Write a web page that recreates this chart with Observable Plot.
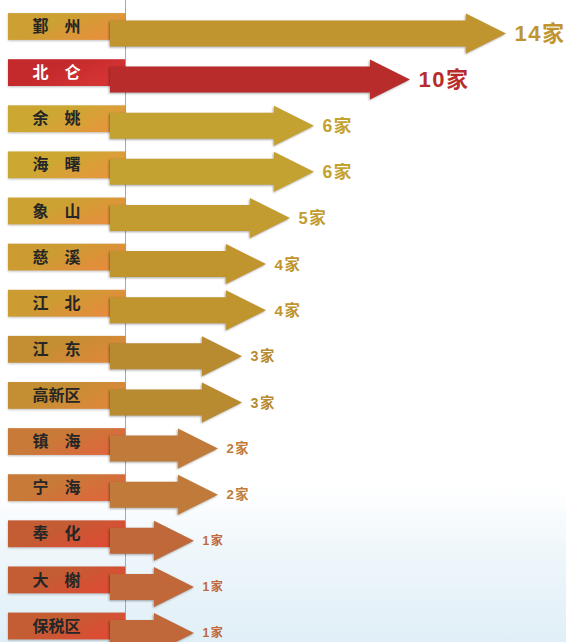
<!DOCTYPE html>
<html><head><meta charset="utf-8">
<script src="https://cdn.jsdelivr.net/npm/d3@7"></script>
<script src="https://cdn.jsdelivr.net/npm/@observablehq/plot@0.6"></script>
<style>
html,body{margin:0;padding:0;background:#fff;}
#chart svg{display:block;}
</style></head><body><div id="chart"></div>
<script>
// ---- data ----
const districts = ["鄞州","北仑","余姚","海曙","象山","慈溪","江北","江东","高新区","镇海","宁海","奉化","大榭","保税区"];
const counts = [14,10,6,6,5,4,4,3,3,2,2,1,1,1];
const unit = "家";

// ---- styles ----
const arrowColors = ["#c0952f","#b82c2c","#c4a232","#c4a232","#c29c30","#c0952e","#c0952e","#b98b30","#b98b30","#c07a3a","#c07a3a","#c0683a","#c0683a","#c0683a"];
const boxLeft  = ["#cca032","#c42a2c","#cca832","#cca832","#cca232","#cc9c32","#cc9c32","#c48e32","#c48e32","#c87a38","#c87a38","#c45c34","#c45c34","#c45c34"];
const boxRight = ["#e6903c","#d63434","#e4983c","#e4983c","#e4903c","#e48c3c","#e48c3c","#dc883a","#dc883a","#dc683c","#dc683c","#dc4c34","#dc4c34","#dc4c34"];

// ---- layout (pixels -> data units) ----
const W = 566, H = 642;
const xr = [170, 506], yr = [26.5, 626];
const pxX = (xr[1]-xr[0])/14, pxY = (yr[1]-yr[0])/13;
const toX = px => (px - xr[0]) / pxX;
const arrowStart = toX(110), boxX1 = toX(8), boxX2 = toX(125), labelX = toX(32);
const HEAD_LEN = 40, SHAFT_HALF = 13;
const headHalf = 20/pxY, off = 7/pxY, boxHalf = 13.4/pxY;

const rows = districts.map((name, i) => ({name, value: counts[i], i}));

function arrowRender(index, scales, values) {
  const g = d3.create("svg:g").attr("class", "arrows");
  for (const i of index) {
    const x1 = values.x1[i], x2 = values.x2[i];
    const yc = (values.y1[i] + values.y2[i]) / 2, h = Math.abs(values.y2[i] - values.y1[i]) / 2;
    const b = x2 - HEAD_LEN, s = SHAFT_HALF;
    const pts = [[x1, yc - s], [b, yc - s], [b, yc - h], [x2, yc], [b, yc + h], [b, yc + s], [x1, yc + s]];
    g.append("path").attr("d", "M" + pts.map(p => p.join(",")).join("L") + "Z")
      .attr("fill", values.fill[i])
      .style("filter", "drop-shadow(-1px 1px 1.2px rgba(0,0,0,0.35))");
  }
  return g.node();
}

function boxRender(index, scales, values) {
  const g = d3.create("svg:g").attr("class", "boxes");
  const defs = g.append("defs");
  for (const i of index) {
    const lg = defs.append("linearGradient").attr("id", "lb" + i).attr("x1", "0").attr("x2", "1").attr("y1", "0").attr("y2", "0.5");
    lg.append("stop").attr("offset", "0").attr("stop-color", boxLeft[i]);
    lg.append("stop").attr("offset", "0.45").attr("stop-color", boxLeft[i]);
    lg.append("stop").attr("offset", "1").attr("stop-color", boxRight[i]);
    const x = Math.min(values.x1[i], values.x2[i]), y = Math.min(values.y1[i], values.y2[i]);
    g.append("rect").attr("x", x).attr("y", y)
      .attr("width", Math.abs(values.x2[i] - values.x1[i])).attr("height", Math.abs(values.y2[i] - values.y1[i]))
      .attr("fill", `url(#lb${i})`)
      .style("filter", "drop-shadow(0px 1px 1px rgba(0,0,0,0.25))");
  }
  return g.node();
}

const plot = Plot.plot({
  width: W, height: H, margin: 0,
  x: {domain: [0, 14], range: xr, axis: null},
  y: {domain: [0, 13], range: yr, axis: null},
  color: {domain: districts, range: arrowColors},
  style: {background: "linear-gradient(to bottom,#ffffff 0%,#ffffff 76%,#f0f7fb 85%,#e0eff7 100%)",
          fontFamily: "'Liberation Sans','Noto Sans CJK SC',sans-serif"},
  marks: [
    Plot.ruleX([boxX2], {stroke: "#a8a8a8", strokeWidth: 1}),
    Plot.rect(rows, {x1: () => boxX1, x2: () => boxX2, y1: d => d.i - boxHalf, y2: d => d.i + boxHalf, fill: "name", render: boxRender}),
    Plot.rect(rows, {x1: () => arrowStart, x2: "value", y1: d => d.i + off - headHalf, y2: d => d.i + off + headHalf, fill: "name", render: arrowRender}),
    Plot.text(rows, {x: () => labelX, y: "i", text: d => d.name.length === 2 ? d.name.split("").join("\u3000") : d.name,
      textAnchor: "start", fontSize: 16, fontWeight: "bold", fontFamily: "'Noto Sans CJK SC',sans-serif",
      fill: d => d.name === "北仑" ? "#ffffff" : "#262626"}),
    Plot.text(rows, {x: "value", y: d => d.i + off, text: d => d.value + unit, dx: 8, textAnchor: "start",
      fill: "name", fontSize: d => Math.min(22, 11 + 1.1 * d.value), fontWeight: "bold",
      render: (index, scales, values, dims, ctx, next) => { const el = next(index, scales, values, dims, ctx); el.style.letterSpacing = "1.5px"; return el; }})
  ]
});
document.getElementById("chart").appendChild(plot);
</script></body></html>
